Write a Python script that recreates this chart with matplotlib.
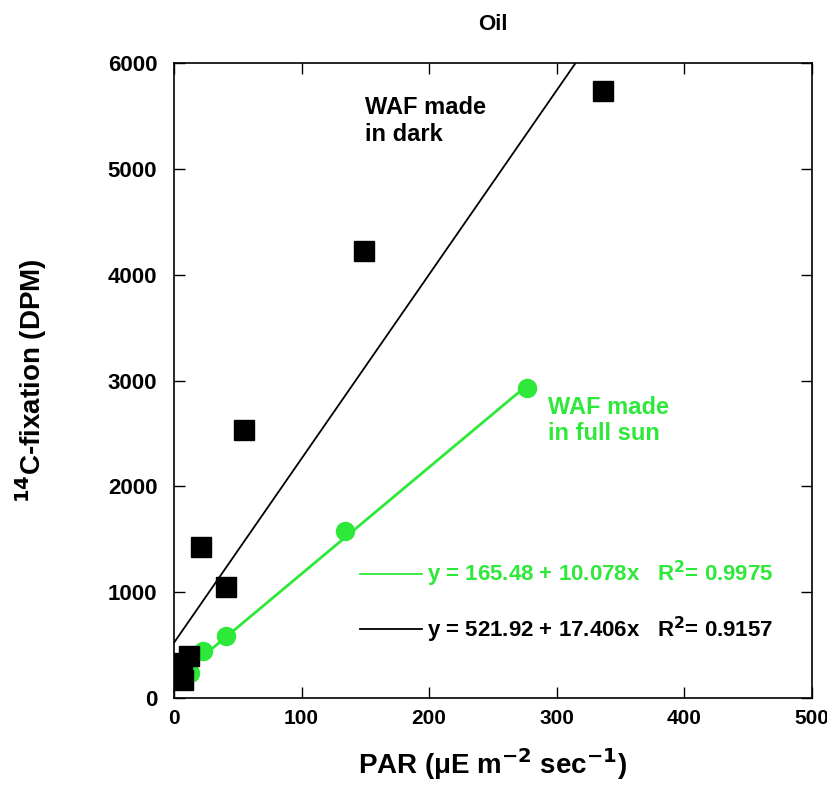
import numpy as np
import matplotlib
matplotlib.use("Agg")
import matplotlib.pyplot as plt

plt.rcParams['font.family'] = ['Liberation Sans', 'DejaVu Sans']
plt.rcParams['font.weight'] = 'bold'

# WAF made in dark
dark_par = [1, 6, 7, 12, 21, 41, 55, 149, 336]
dark_dpm = [330, 250, 170, 400, 1427, 1049, 2530, 4224, 5740]
dark_fit = (521.92, 17.406)

# WAF made in full sun
sun_par = [2, 12.5, 23, 41, 134, 277]
sun_dpm = [170, 236, 444, 586, 1578, 2930]
sun_fit = (165.48, 10.078)

green = '#2ee83a'

fig = plt.figure(figsize=(8.28, 8.06), dpi=100)
ax = fig.add_axes([0.2101, 0.134, 0.7706, 0.7878])

xd = np.array([0, 500])
ax.plot(xd, dark_fit[0] + dark_fit[1] * xd, color='black', lw=1.3, zorder=2)
xs = np.array([0, max(sun_par)])
ax.plot(xs, sun_fit[0] + sun_fit[1] * xs, color=green, lw=2, zorder=2)

ax.plot(sun_par, sun_dpm, 'o', color=green, ms=13, zorder=3)
ax.plot(dark_par, dark_dpm, 's', color='black', ms=14, zorder=4)

ax.set_xlim(0, 500)
ax.set_ylim(0, 6000)
ax.set_xticks(range(0, 501, 100))
ax.set_yticks(range(0, 6001, 1000))
ax.tick_params(direction='in', top=True, right=True, length=8, width=1)
ax.tick_params(axis='x', pad=8, labelsize=15)
ax.tick_params(axis='y', pad=12, labelsize=16)
for lab in ax.get_xticklabels() + ax.get_yticklabels():
    lab.set_fontweight('bold')
for sp in ax.spines.values():
    sp.set_linewidth(1.2)

ax.set_title('Oil', fontsize=16, fontweight='bold', pad=24)
ax.set_xlabel('PAR (μE m$^{\\mathbf{-2}}$ sec$^{\\mathbf{-1}}$)', fontsize=20,
              fontweight='bold', labelpad=13)
ax.set_ylabel('$^{\\mathbf{14}}$C-fixation (DPM)', fontsize=20,
              fontweight='bold', labelpad=42)

ax.text(0.30, 0.948, 'WAF made\nin dark', transform=ax.transAxes,
        fontsize=17, fontweight='bold', va='top', linespacing=1.2)
ax.text(0.586, 0.476, 'WAF made\nin full sun', transform=ax.transAxes,
        fontsize=17, fontweight='bold', va='top', linespacing=1.2, color=green)

# fit equations with short line keys
for yk, col, (a, b), r2 in [(0.195, green, sun_fit, '0.9975'),
                            (0.108, 'black', dark_fit, '0.9157')]:
    ax.plot([0.292, 0.388], [yk, yk], transform=ax.transAxes, color=col, lw=1.3)
    ax.text(0.397, yk, 'y = %.2f + %.3fx   R$^{\\mathbf{2}}$= %s' % (a, b, r2),
            transform=ax.transAxes, fontsize=16, fontweight='bold',
            color=col, va='center')

fig.savefig('out.png', dpi=100)
